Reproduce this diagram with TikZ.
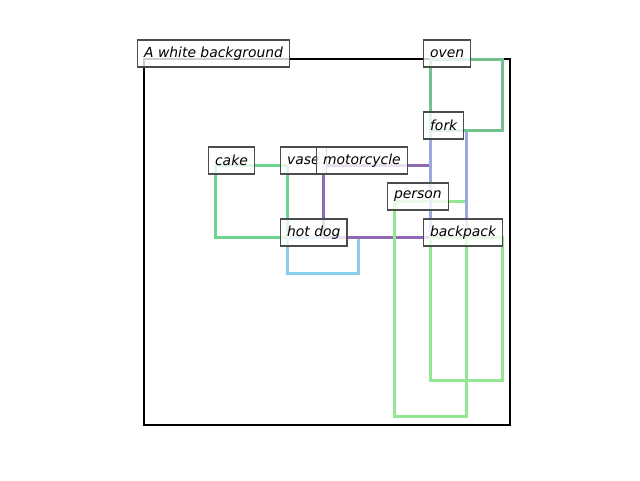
\documentclass[tikz,border=0pt]{standalone}
\usepackage{fontspec}
\setmainfont{DejaVu Sans}
\begin{document}
\begin{tikzpicture}[x=1pt,y=-1pt,
  bx/.style={line width=3pt},
  lbl/.style={draw=black!70,line width=1.2pt,fill=white,fill opacity=0.8,text opacity=1,
    anchor=west,inner xsep=6.5pt,inner ysep=0pt,minimum height=27pt,
    font=\fontsize{13.9}{16}\selectfont\itshape}]
\useasboundingbox (0,0) rectangle (640,480);
\definecolor{ovenc}{HTML}{74C08F}
\definecolor{cakec}{HTML}{6AD68F}
\definecolor{forkc}{HTML}{9AAAE0}
\definecolor{motoc}{HTML}{8E68B6}
\definecolor{hotc}{HTML}{8ACFEB}
\definecolor{persc}{HTML}{92E892}
% frame
\draw[line width=2.3pt,black] (144,59) rectangle (510,425);
% boxes
\draw[bx,cakec] (215,165) rectangle (287,237);
\draw[bx,hotc] (287,237) rectangle (358,273);
\draw[bx,motoc] (323,165) rectangle (430,237);
\draw[bx,persc] (394,201) rectangle (466,416);
\draw[bx,forkc] (430,130) rectangle (466,237);
\draw[bx,ovenc] (430,59) rectangle (502,130);
\draw[bx,persc] (430,237) rectangle (502,380);
% labels
\node[lbl] (bg) at (137,53.5) {A white background};
\node[lbl] (oven) at (423,53.5) {oven};
\node[lbl] (fork) at (423,125.5) {fork};
\node[lbl] (cake) at (208,160.5) {cake};
\node[lbl] (vase) at (280,160.5) {vase};
\node[lbl] (moto) at (316,160.5) {motorcycle};
\node[lbl] (person) at (387,196.5) {person};
\node[lbl] (hotdog) at (280,232.5) {hot dog};
\node[lbl] (backpack) at (423,232.5) {backpack};
\end{tikzpicture}
\end{document}
